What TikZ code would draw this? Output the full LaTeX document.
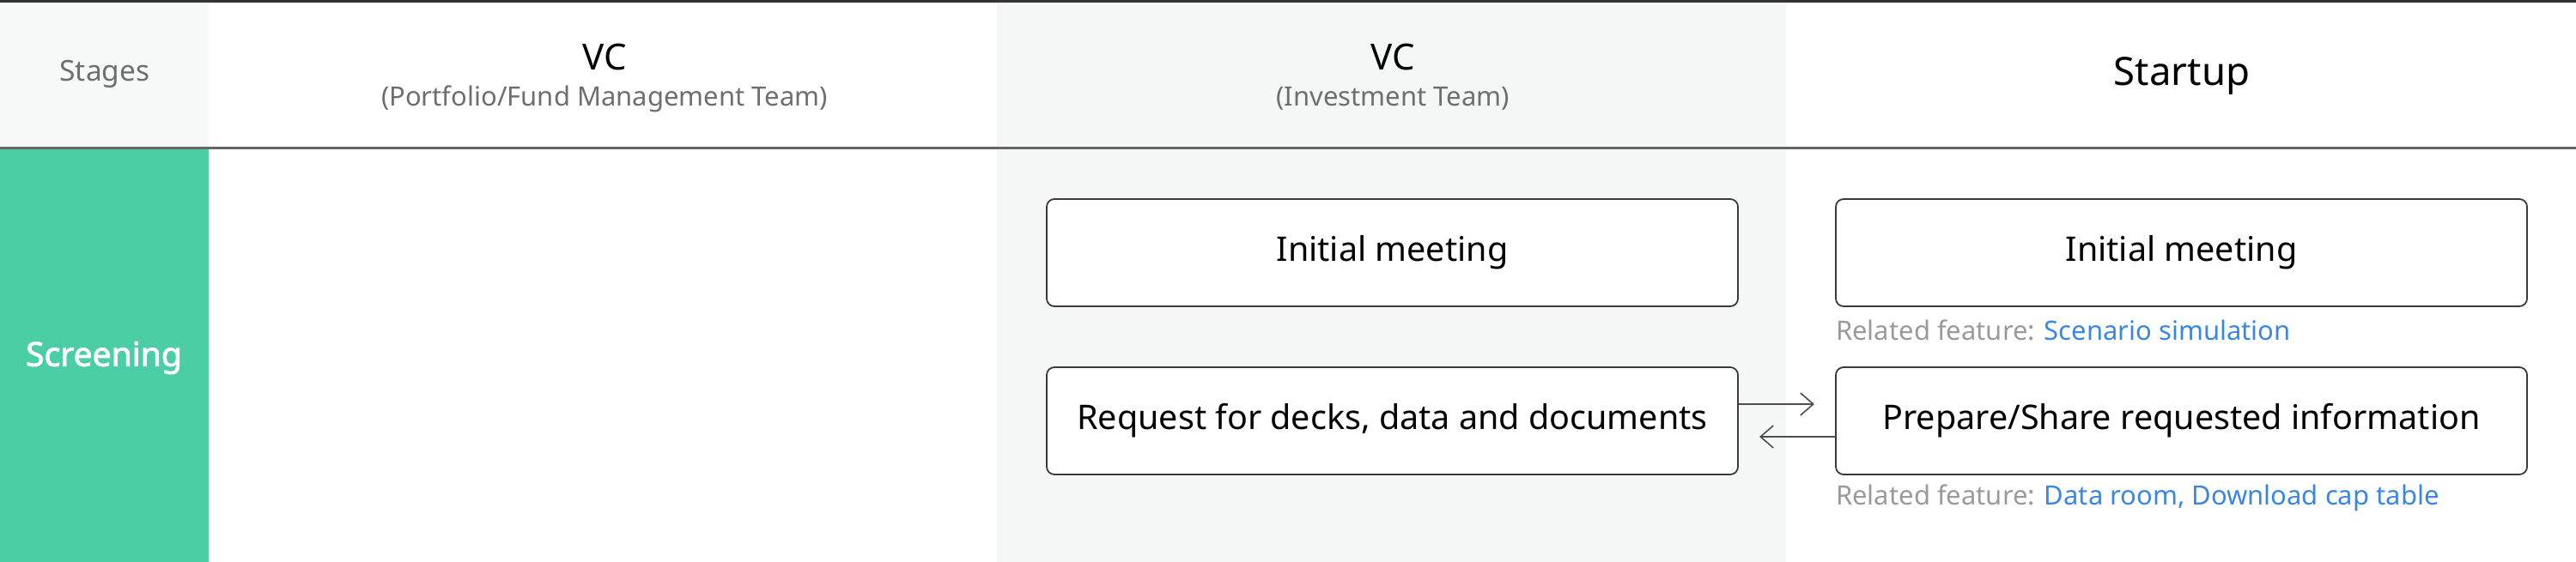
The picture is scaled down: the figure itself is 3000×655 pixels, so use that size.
\documentclass[tikz,border=0pt]{standalone}
\usepackage{fontspec}
\setmainfont{Noto Sans}
\newfontfamily\stagefont{Noto Sans}[FakeBold=2.2]
\usetikzlibrary{arrows.meta}
\definecolor{greenstage}{HTML}{4BCDA6}
\definecolor{colbg}{HTML}{F4F7F6}
\definecolor{stagebg}{HTML}{F7F9F8}
\definecolor{topline}{HTML}{333333}
\definecolor{midline}{HTML}{666666}
\definecolor{subgray}{HTML}{6E6E6E}
\definecolor{relgray}{HTML}{9A9A9A}
\definecolor{relblue}{HTML}{3A87E0}
\definecolor{boxline}{HTML}{3A3A3A}
\tikzset{
  stepbox/.style={draw=boxline, line width=1.8pt, rounded corners=9pt, fill=white,
    minimum width=805pt, minimum height=125pt, inner sep=0pt,
    font=\fontsize{39.5}{46}\selectfont, text=black},
  headtxt/.style={font=\fontsize{42}{50}\selectfont, text=black, inner sep=0pt},
  subtxt/.style={font=\fontsize{31}{38}\selectfont, text=subgray, inner sep=0pt},
  reltxt/.style={font=\fontsize{31}{38}\selectfont, text=relgray, inner sep=0pt, anchor=west},
  flow/.style={draw=boxline!90, line width=1.6pt, -{Straight Barb[length=15pt,width=26pt,line width=1.6pt]}}
}
\begin{document}
\begin{tikzpicture}[x=1pt,y=-1pt]
\useasboundingbox (0,0) rectangle (3000,655);
\fill[white] (0,0) rectangle (3000,655);
% backgrounds
\fill[stagebg] (0,3) rectangle (243,172);
\fill[colbg] (1161,3) rectangle (2080,655);
\fill[greenstage] (0,173) rectangle (243,655);
% lines
\fill[topline] (0,0) rectangle (3000,3);
\fill[midline] (0,171) rectangle (3000,174);
% header
\node[font=\fontsize{33.5}{40}\selectfont, text=subgray, inner sep=0pt] (stages) at (122,86) {Stages};
\node[headtxt] (vc1) at (704,67) {VC};
\node[subtxt] (vc1s) at (704,115) {(Portfolio/Fund Management Team)};
\node[headtxt] (vc2) at (1622,67) {VC};
\node[subtxt] (vc2s) at (1622,115) {(Investment Team)};
\node[headtxt, font=\fontsize{45.5}{52}\selectfont] (startup) at (2541,88) {Startup};
% stage
\node[font=\fontsize{39}{46}\stagefont, text=white, inner sep=0pt] (screen) at (121,417) {Screening};
% boxes
\node[stepbox] (a1) at (1621.5,294.5) {Initial meeting};
\node[stepbox] (a2) at (1621.5,490.5) {Request for decks, data and documents};
\node[stepbox] (b1) at (2540.5,294.5) {Initial meeting};
\node[stepbox] (b2) at (2540.5,490.5) {Prepare/Share requested information};
\node[reltxt] (r1) at (2138,385) {Related feature: \textcolor{relblue}{Scenario simulation}};
\node[reltxt] (r2) at (2138,580) {Related feature: \textcolor{relblue}{Data room, Download cap table}};
% arrows
\coordinate (t1) at (2113,471);
\coordinate (t2) at (2049,509);
\draw[flow] (a2.east |- t1) -- (t1);
\draw[flow] (b2.west |- t2) -- (t2);
\end{tikzpicture}
\end{document}
